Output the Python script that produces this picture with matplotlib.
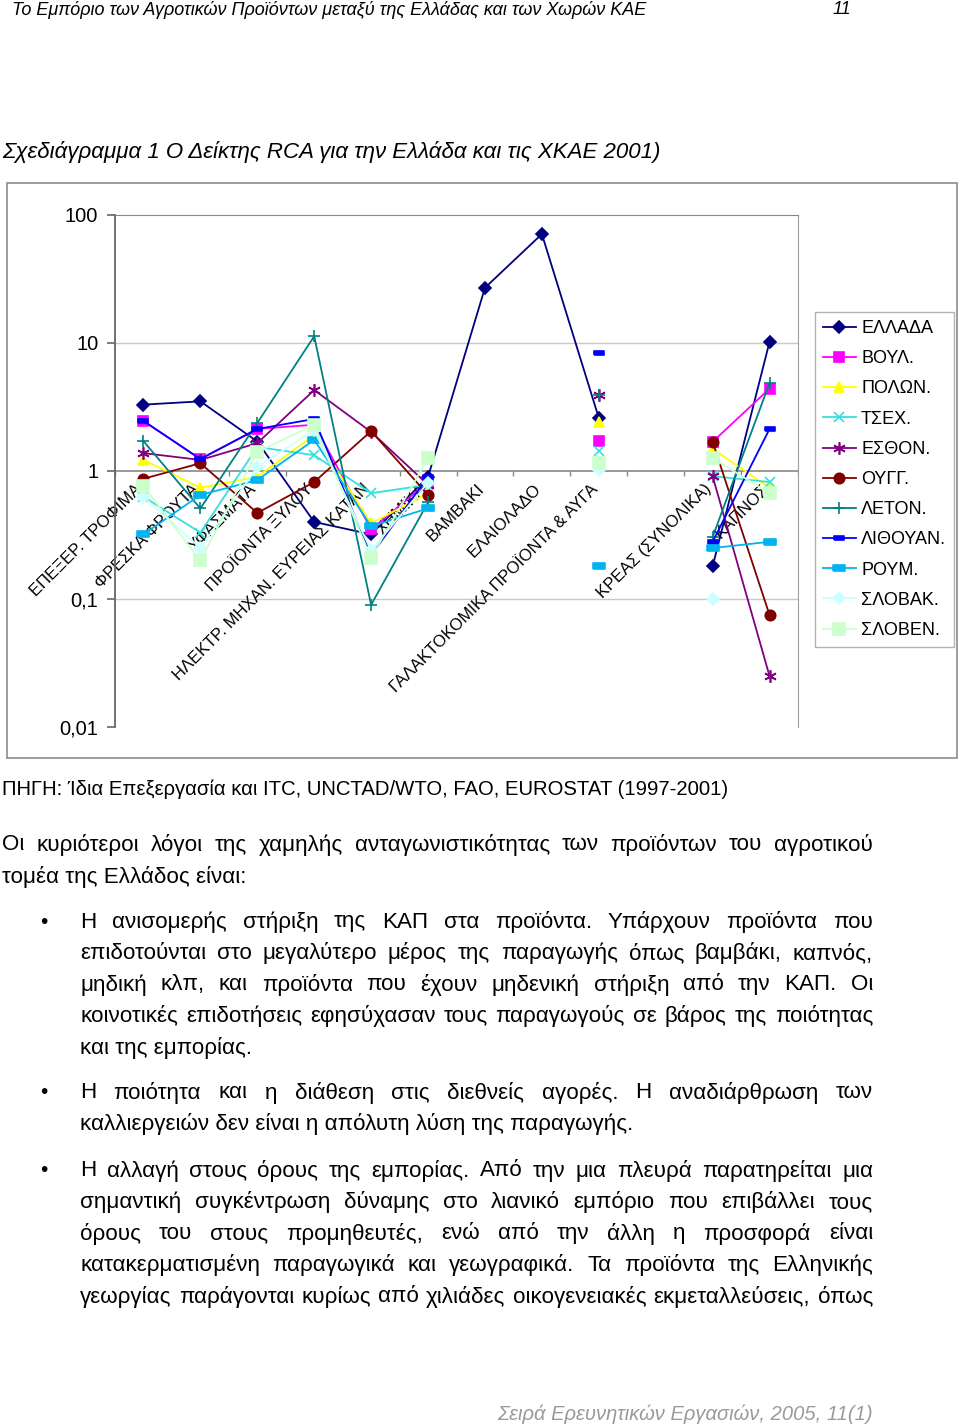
import numpy as np
import matplotlib
matplotlib.use("Agg")
import matplotlib.pyplot as plt
from matplotlib import font_manager
from matplotlib.patches import Rectangle
from matplotlib.ticker import NullLocator, FixedLocator, FixedFormatter

names = {f.name for f in font_manager.fontManager.ttflist}
NARROW = "Liberation Sans Narrow" if "Liberation Sans Narrow" in names else "Liberation Sans"
plt.rcParams["font.family"] = ["Liberation Sans", "DejaVu Sans"]

nan = np.nan
# κατηγορίες προϊόντων (η 10η δεν έχει ετικέτα)
categories = ["ΕΠΕΞΕΡ. ΤΡΟΦΙΜΑ", "ΦΡΕΣΚΑ ΦΡΟΥΤΑ", "ΥΦΑΣΜΑΤΑ", "ΠΡΟΪΟΝΤΑ ΞΥΛΟΥ",
              "ΗΛΕΚΤΡ. ΜΗΧΑΝ. ΕΥΡΕΙΑΣ ΚΑΤΑΝ", "ΧΗΜΙΚΑ", "ΒΑΜΒΑΚΙ", "ΕΛΑΙΟΛΑΔΟ",
              "ΓΑΛΑΚΤΟΚΟΜΙΚΑ ΠΡΟΪΟΝΤΑ & ΑΥΓΑ", "", "ΚΡΕΑΣ (ΣΥΝΟΛΙΚΑ)", "ΚΑΠΝΟΣ"]

# δείκτης RCA ανά χώρα (τιμές από το διάγραμμα)
greece   = [3.3, 3.5, 1.7, 0.40, 0.32, 0.90, 27, 71, 2.6, nan, 0.18, 10.2]
boul     = [2.46, 1.24, 2.13, 2.3, 0.35, 0.82, nan, nan, 1.71, nan, 1.69, 4.4]
polon    = [1.22, 0.74, 0.90, 1.91, 0.39, 0.67, nan, nan, 2.41, nan, 1.49, 0.74]
tsex     = [0.63, 0.33, 1.54, 1.33, 0.67, 0.78, nan, nan, 1.43, nan, 0.91, 0.82]
esthon   = [1.38, 1.22, 1.65, 4.29, 2.02, 0.78, nan, nan, 3.92, nan, 0.91, 0.025]
oungg    = [0.87, 1.15, 0.47, 0.82, 2.05, 0.65, nan, nan, nan, nan, 1.69, 0.075]
leton    = [1.71, 0.51, 2.37, 11.3, 0.09, 0.57, nan, nan, 3.92, nan, 0.305, 4.87]
lithouan = [2.46, 1.24, 2.13, 2.55, 0.22, 0.90, nan, nan, 8.35, nan, 0.28, 2.13]
roum     = [0.32, 0.65, 0.85, 1.75, 0.37, 0.51, nan, nan, 0.18, nan, 0.25, 0.28]
slovak   = [0.63, 0.25, 1.07, 2.09, 0.24, 0.81, nan, nan, 1.02, nan, 0.10, nan]
sloven   = [0.76, 0.20, 1.41, 2.29, 0.21, 1.26, nan, nan, 1.15, nan, 1.26, 0.67]

ytick_vals = [0.01, 0.1, 1, 10, 100]
ytick_labels = ["0,01", "0,1", "1", "10", "100"]

dash = [(-1, -0.45), (1, -0.45), (1, 0.45), (-1, 0.45), (-1, -0.45)]
series = [
    ("ΕΛΛΑΔΑ", greece, "#000080", "D", 6),
    ("ΒΟΥΛ.", boul, "#FF00FF", "s", 6.5),
    ("ΠΟΛΩΝ.", polon, "#FFFF00", "^", 7),
    ("ΤΣΕΧ.", tsex, "#33E0E0", "x", 7),
    ("ΕΣΘΟΝ.", esthon, "#800080", (6, 2, 0), 9),
    ("ΟΥΓΓ.", oungg, "#800000", "o", 7.5),
    ("ΛΕΤΟΝ.", leton, "#008080", "+", 9),
    ("ΛΙΘΟΥΑΝ.", lithouan, "#0000FF", dash, 7),
    ("ΡΟΥΜ.", roum, "#00B4F0", dash, 9),
    ("ΣΛΟΒΑΚ.", slovak, "#CCFFFF", "D", 6),
    ("ΣΛΟΒΕΝ.", sloven, "#CCFFCC", "s", 8),
]

W, H = 960, 1427
fig = plt.figure(figsize=(W / 100, H / 100), dpi=100)

def fx(x):
    return x / W

def fy(y):
    return 1 - y / H

# πλαίσιο διαγράμματος
fig.patches.append(Rectangle((fx(7), fy(758)), fx(957) - fx(7), fy(183) - fy(758),
                             transform=fig.transFigure, fill=False, edgecolor="#8C8C8C", lw=1.2))

ax = fig.add_axes([fx(115), fy(727), fx(798) - fx(115), fy(215) - fy(727)])
ax.set_yscale("log")
ax.set_ylim(0.01, 100)
ax.set_xlim(-0.5, len(categories) - 0.5)
x = np.arange(len(categories))

for lbl, vals, col, mk, ms in series:
    ax.plot(x, vals, color=col, marker=mk, markersize=ms, lw=1.3, label=lbl,
            markeredgecolor=col, markerfacecolor=col, markeredgewidth=1.2, zorder=3)

for g in [10, 0.1]:
    ax.axhline(g, color="#C8C8C8", lw=1, zorder=1)
ax.axhline(1, color="#888888", lw=1.2, zorder=1)
ax.vlines(np.arange(len(categories) + 1) - 0.5, 10 ** (-5 / 128), 1, color="#888888", lw=1, zorder=1)

ax.spines["bottom"].set_visible(False)
ax.spines["top"].set_color("#888888")
ax.spines["right"].set_color("#A0A0A0")
ax.spines["left"].set_color("#666666")
ax.spines["left"].set_linewidth(1.3)
ax.set_xticks([])
ax.yaxis.set_major_locator(FixedLocator(ytick_vals))
ax.yaxis.set_major_formatter(FixedFormatter(ytick_labels))
ax.yaxis.set_minor_locator(NullLocator())
ax.tick_params(axis="y", length=6, width=1.2, color="#666666", labelsize=14.5, pad=6)

for i, c in enumerate(categories):
    ax.text(i - 0.15, 0.83, c, rotation=45, rotation_mode="anchor", ha="right", va="top",
            fontsize=12, zorder=2)

leg = ax.legend(loc="upper left", bbox_to_anchor=(fx(815), fy(312)), bbox_transform=fig.transFigure,
                borderaxespad=0, fontsize=13, frameon=True, fancybox=False, edgecolor="#A0A0A0",
                handlelength=1.8, handletextpad=0.3, labelspacing=0.73, borderpad=0.45, numpoints=1)
leg.get_frame().set_linewidth(1.0)

# κείμενο σελίδας
renderer = fig.canvas.get_renderer()

def put_line(s, x0, y, size, x1=None, **kw):
    if x1 is None:
        fig.text(fx(x0), fy(y), s, fontsize=size, va="center", ha="left", family=NARROW, **kw)
        return
    words = s.split()
    ts = [fig.text(0, fy(y), w, fontsize=size, va="center", ha="left", family=NARROW, **kw) for w in words]
    widths = [t.get_window_extent(renderer).width for t in ts]
    gap = (x1 - x0 - sum(widths)) / (len(words) - 1)
    xx = x0
    for t, w in zip(ts, widths):
        t.set_x(fx(xx))
        xx += w + gap

put_line("Το Εμπόριο των Αγροτικών Προϊόντων μεταξύ της Ελλάδας και των Χωρών ΚΑΕ", 12, 10, 13, style="italic")
put_line("11", 833, 10, 13, style="italic")
put_line("Σχεδιάγραμμα 1 Ο Δείκτης RCA για την Ελλάδα και τις ΧΚΑΕ 2001)", 2, 152, 16, style="italic")
put_line("ΠΗΓΗ: Ίδια Επεξεργασία και ITC, UNCTAD/WTO, FAO, EUROSTAT (1997-2001)", 2, 789, 14.6)

R = 873
BODY = 16.1
put_line("Οι κυριότεροι λόγοι της χαμηλής ανταγωνιστικότητας των προϊόντων του αγροτικού", 2, 845, BODY, R)
put_line("τομέα της Ελλάδος είναι:", 2, 877, BODY)

bullets = [
    (922, ["Η ανισομερής στήριξη της ΚΑΠ στα προϊόντα. Υπάρχουν προϊόντα που",
           "επιδοτούνται στο μεγαλύτερο μέρος της παραγωγής όπως βαμβάκι, καπνός,",
           "μηδική κλπ, και προϊόντα που έχουν μηδενική στήριξη από την ΚΑΠ. Οι",
           "κοινοτικές επιδοτήσεις εφησύχασαν τους παραγωγούς σε βάρος της ποιότητας",
           "και της εμπορίας."]),
    (1093, ["Η ποιότητα και η διάθεση στις διεθνείς αγορές. Η αναδιάρθρωση των",
            "καλλιεργειών δεν είναι η απόλυτη λύση της παραγωγής."]),
    (1171, ["Η αλλαγή στους όρους της εμπορίας. Από την μια πλευρά παρατηρείται μια",
            "σημαντική συγκέντρωση δύναμης στο λιανικό εμπόριο που επιβάλλει τους",
            "όρους του στους προμηθευτές, ενώ από την άλλη η προσφορά είναι",
            "κατακερματισμένη παραγωγικά και γεωγραφικά. Τα προϊόντα της Ελληνικής",
            "γεωργίας παράγονται κυρίως από χιλιάδες οικογενειακές εκμεταλλεύσεις, όπως"]),
]
for y0, lines in bullets:
    fig.text(fx(40), fy(y0), "•", fontsize=15, va="center", ha="left")
    for k, ln in enumerate(lines):
        last = (k == len(lines) - 1) and not ln.endswith("όπως")
        put_line(ln, 80, y0 + k * 31.4, BODY, None if last else R)

fig.text(fx(873), fy(1414), "Σειρά Ερευνητικών Εργασιών, 2005, 11(1)", fontsize=14.5, va="center",
         ha="right", family=NARROW, style="italic", color="#9A9A9A")

fig.savefig("out.png", dpi=100)
